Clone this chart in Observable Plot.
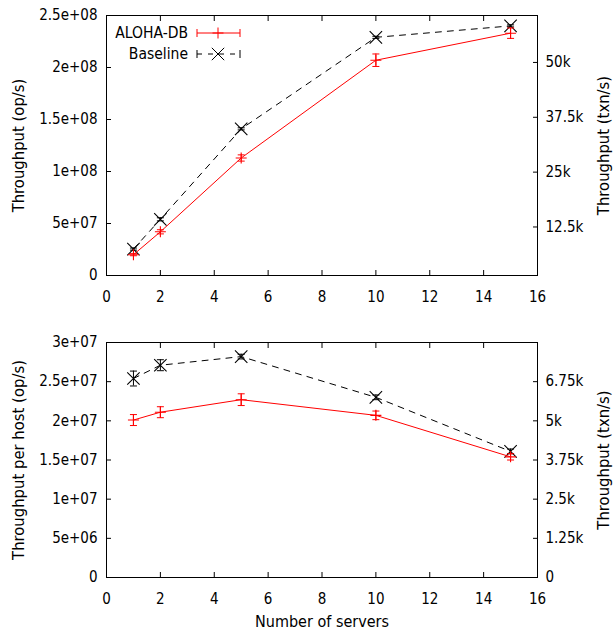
<!DOCTYPE html>
<html><head><meta charset="utf-8">
<script src="https://cdn.jsdelivr.net/npm/d3@7"></script>
<script src="https://cdn.jsdelivr.net/npm/@observablehq/plot@0.6"></script>
<style>
body{margin:0;background:#fff;}
#wrap{position:relative;width:614px;height:640px;font-family:"DejaVu Sans Condensed","DejaVu Sans",sans-serif;font-stretch:condensed;}
#wrap svg{display:block}
#legend{position:absolute;left:0;top:0;}
</style></head><body><div id="wrap"></div>
<script>
// ---- data ----
const servers = [1, 2, 5, 10, 15];
const seriesNames = ["ALOHA-DB", "Baseline"];
const alohaTotal = [2.0e7, 4.2e7, 1.13e8, 2.07e8, 2.33e8];
const alohaTotalErr = [1e6, 2e6, 3e6, 6e6, 5e6];
const baseTotal = [2.54e7, 5.4e7, 1.41e8, 2.29e8, 2.40e8];
const baseTotalErr = [1e6, 1.5e6, 1e6, 1e6, 1e6];
const alohaHost = [20.1e6, 21.1e6, 22.7e6, 20.7e6, 15.4e6];
const alohaHostErr = [0.7e6, 0.7e6, 0.75e6, 0.55e6, 0.4e6];
const baseHost = [25.4e6, 27.1e6, 28.2e6, 23.0e6, 16.1e6];
const baseHostErr = [0.95e6, 0.7e6, 0.3e6, 0.3e6, 0.3e6];

const xTicks = [0, 2, 4, 6, 8, 10, 12, 14, 16];
const topYTicks = [0, 5e7, 1e8, 1.5e8, 2e8, 2.5e8];
const topYLabels = ["0", "5e+07", "1e+08", "1.5e+08", "2e+08", "2.5e+08"];
const topY2Ticks = [12500, 25000, 37500, 50000];
const topY2Labels = ["12.5k", "25k", "37.5k", "50k"];
const botYTicks = [0, 5e6, 1e7, 1.5e7, 2e7, 2.5e7, 3e7];
const botYLabels = ["0", "5e+06", "1e+07", "1.5e+07", "2e+07", "2.5e+07", "3e+07"];
const botY2Ticks = [0, 1250, 2500, 3750, 5000, 6250];
const botY2Labels = ["0", "1.25k", "2.5k", "3.75k", "5k", "6.75k"];

// ---- symbols (gnuplot-like stroked markers) ----
const rad = s => Math.sqrt(s / Math.PI);
const plusSym = {draw(c, s){const r = rad(s); c.moveTo(-r,0); c.lineTo(r,0); c.moveTo(0,-r); c.lineTo(0,r);}};
const crossSym = {draw(c, s){const r = rad(s); c.moveTo(-r,-r); c.lineTo(r,r); c.moveTo(-r,r); c.lineTo(r,-r);}};
const capSym = {draw(c, s){const r = rad(s); c.moveTo(-r,0); c.lineTo(r,0);}};

const FONT = '"DejaVu Sans Condensed","DejaVu Sans",sans-serif';
const rows = (vals, errs) => servers.map((s, i) => ({x: s, y: vals[i], e: errs[i]}));

function seriesMarks(data, color, sym, r, dash) {
  return [
    Plot.line(data, {x: "x", y: "y", stroke: color, strokeWidth: 1, strokeDasharray: dash}),
    Plot.ruleX(data, {x: "x", y1: d => d.y - d.e, y2: d => d.y + d.e, stroke: color, strokeWidth: 1}),
    Plot.dot(data, {x: "x", y: d => d.y - d.e, symbol: capSym, r: 3.5, stroke: color, strokeWidth: 1}),
    Plot.dot(data, {x: "x", y: d => d.y + d.e, symbol: capSym, r: 3.5, stroke: color, strokeWidth: 1}),
    Plot.dot(data, {x: "x", y: "y", symbol: sym, r, stroke: color, strokeWidth: 1.1})
  ];
}

function panel(o) {
  const toY = v => o.yDomain[0] + (v - o.y2Domain[0]) / (o.y2Domain[1] - o.y2Domain[0]) * (o.yDomain[1] - o.yDomain[0]);
  const y2Pos = o.y2Ticks.map(toY);
  const y2Map = new Map(y2Pos.map((p, i) => [p, o.y2Labels[i]]));
  const yMap = new Map(o.yTicks.map((p, i) => [p, o.yLabels[i]]));
  const titleStyle = {fontFamily: '"DejaVu Sans",sans-serif', fontSize: 16.5, textAnchor: "middle", rotate: -90, fill: "black"};
  const marks = [
    Plot.frame({stroke: "black", strokeWidth: 1}),
    Plot.axisX(xTicks, {anchor: "bottom", tickSize: -5, tickPadding: 20.5, label: null, tickFormat: d => String(d)}),
    Plot.axisX(xTicks, {anchor: "top", tickSize: -5, label: null, tickFormat: () => ""}),
    Plot.axisY(o.yTicks, {anchor: "left", tickSize: -5, tickPadding: 14, label: null, tickFormat: d => yMap.get(d)}),
    Plot.axisY(y2Pos, {anchor: "right", tickSize: -5, tickPadding: 13, label: null, tickFormat: d => y2Map.get(d)}),
    Plot.text([o.yTitle], {text: d => d, frameAnchor: "left", dx: -88, ...titleStyle}),
    Plot.text([o.y2Title], {text: d => d, frameAnchor: "right", dx: 66, ...titleStyle}),
    ...seriesMarks(o.base, "black", crossSym, 6.2, "6,6"),
    ...seriesMarks(o.aloha, "#ff0000", plusSym, 5.5, null)
  ];
  if (o.xTitle) marks.push(Plot.text([o.xTitle], {text: d => d, frameAnchor: "bottom", dy: 49, fontSize: 16}));
  return Plot.plot({
    width: 614, height: o.height,
    marginLeft: 106, marginRight: 77, marginTop: o.marginTop, marginBottom: o.marginBottom,
    x: {domain: [0, 16]},
    y: {domain: o.yDomain},
    style: {fontFamily: FONT, fontStretch: "condensed", fontSize: "15px", background: "white", color: "black", overflow: "visible"},
    marks
  });
}

const wrap = document.getElementById("wrap");
wrap.appendChild(panel({
  height: 315, marginTop: 15, marginBottom: 40,
  yDomain: [0, 2.5e8], yTicks: topYTicks, yLabels: topYLabels,
  y2Domain: [1440, 60700], y2Ticks: topY2Ticks, y2Labels: topY2Labels,
  yTitle: "Throughput (op/s)", y2Title: "Throughput (txn/s)",
  aloha: rows(alohaTotal, alohaTotalErr), base: rows(baseTotal, baseTotalErr)
}));
wrap.appendChild(panel({
  height: 325, marginTop: 27, marginBottom: 63,
  yDomain: [0, 3e7], yTicks: botYTicks, yLabels: botYLabels,
  y2Domain: [0, 7500], y2Ticks: botY2Ticks, y2Labels: botY2Labels,
  yTitle: "Throughput per host (op/s)", y2Title: "Throughput (txn/s)", xTitle: "Number of servers",
  aloha: rows(alohaHost, alohaHostErr), base: rows(baseHost, baseHostErr)
}));

// ---- legend (top panel) ----
const lg = d3.select(wrap).append("svg").attr("id", "legend").attr("width", 614).attr("height", 80)
  .style("font-family", FONT).style("font-stretch", "condensed").style("font-size", "15.5px");
const items = [
  {name: seriesNames[0], color: "#ff0000", dash: null, sym: "plus", y: 33},
  {name: seriesNames[1], color: "black", dash: "5,6", sym: "cross", y: 54}
];
items.forEach(it => {
  const g = lg.append("g").attr("transform", `translate(0,${it.y})`);
  g.append("text").attr("x", 188).attr("y", 0).attr("dy", "0.35em").attr("text-anchor", "end").attr("fill", "black").text(it.name);
  g.append("line").attr("x1", 197).attr("x2", 240).attr("y1", 0).attr("y2", 0).attr("stroke", it.color).attr("stroke-dasharray", it.dash);
  g.append("path").attr("d", "M197,-4V4M240,-4V4").attr("stroke", it.color);
  const r = it.sym === "plus" ? 5.5 : 6.2;
  g.append("path").attr("d", it.sym === "plus" ? `M${218-r},0H${218+r}M218,${-r}V${r}` : `M${218-r},${-r}L${218+r},${r}M${218-r},${r}L${218+r},${-r}`)
    .attr("stroke", it.color).attr("fill", "none");
});
</script>
</body></html>
